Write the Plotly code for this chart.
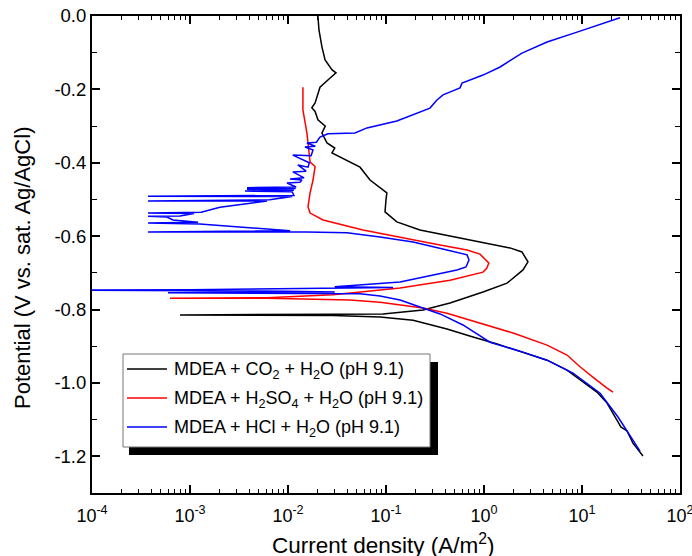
import plotly.graph_objects as go

# ---- Polarisation curves: current density (A/m^2) vs potential (V vs. sat. Ag/AgCl) ----
# Each series is listed in sweep order (cathodic end -> corrosion potential -> anodic end)

co2_current = [41.9, 33.1, 28.8, 24.9, 23.6, 18.0, 14.2, 9.55, 7.03, 4.40, 2.50, 1.36, 0.773,
               0.419, 0.189, 0.0869, 0.0288, 0.0041, 0.00079, 0.00202, 0.0288, 0.0931, 0.239,
               0.45, 0.977, 1.72, 2.50, 2.81, 2.44, 1.84, 0.91, 0.419, 0.222, 0.129, 0.0977,
               0.100, 0.102, 0.0687, 0.0543, 0.0281, 0.0300, 0.025, 0.0222, 0.0240, 0.0202,
               0.0189, 0.0175, 0.0189, 0.0212, 0.0269, 0.0309, 0.0282, 0.0239, 0.0222, 0.0207,
               0.0202]
co2_potential = [-1.199, -1.164, -1.131, -1.120, -1.109, -1.055, -1.025, -0.992, -0.965, -0.938,
                 -0.916, -0.894, -0.875, -0.853, -0.829, -0.820, -0.816, -0.816, -0.815, -0.814,
                 -0.813, -0.812, -0.801, -0.782, -0.752, -0.728, -0.692, -0.670, -0.643, -0.632,
                 -0.616, -0.597, -0.583, -0.561, -0.534, -0.501, -0.482, -0.447, -0.412, -0.373,
                 -0.360, -0.346, -0.319, -0.300, -0.283, -0.260, -0.250, -0.237, -0.194, -0.169,
                 -0.155, -0.147, -0.120, -0.084, -0.038, 0.0]

h2so4_current = [20.7, 18.0, 12.9, 9.55, 7.03, 4.40, 1.98, 0.910, 0.419, 0.239, 0.0869, 0.043,
                 0.00611, 0.000625, 0.00611, 0.0288, 0.139, 0.45, 0.977, 1.07, 1.12, 0.91,
                 0.672, 0.356, 0.189, 0.0582, 0.0228, 0.0168, 0.0160, 0.0168, 0.0180, 0.0189,
                 0.0168, 0.0156, 0.0142, 0.0142]
h2so4_potential = [-1.025, -1.014, -0.984, -0.956, -0.924, -0.897, -0.864, -0.837, -0.810,
                   -0.796, -0.780, -0.774, -0.769, -0.769, -0.768, -0.760, -0.741, -0.720,
                   -0.698, -0.687, -0.673, -0.649, -0.638, -0.624, -0.610, -0.583, -0.556,
                   -0.537, -0.520, -0.482, -0.447, -0.410, -0.398, -0.319, -0.256, -0.194]

hcl_current = [39.1, 23.3, 15.3, 8.09, 4.40, 2.50, 1.15, 0.61, 0.356, 0.222, 0.139, 0.0869,
               0.0543, 0.000596, 0.030, 0.010, 0.001, 0.00005, 0.001, 0.010, 0.118, 0.030,
               0.139, 0.53, 0.655, 0.703, 0.672, 0.419, 0.189, 0.0869, 0.040, 0.0156,
               0.000373, 0.0105, 0.00126, 0.000373, 0.00121, 0.000671, 0.000582, 0.000373,
               0.000791, 0.00110, 0.000373, 0.00130, 0.00149, 0.00202, 0.00611, 0.000373,
               0.0065, 0.0110, 0.000373, 0.0115, 0.0110, 0.00364, 0.0115, 0.00382, 0.0120,
               0.00382, 0.0121, 0.00977, 0.0132, 0.0139, 0.0105, 0.0146, 0.0112, 0.0153,
               0.0126, 0.0160, 0.0165, 0.0112, 0.0172, 0.0180, 0.0149, 0.0190, 0.0156, 0.0195,
               0.0212, 0.0256, 0.0483, 0.064, 0.129, 0.164, 0.281, 0.331, 0.382, 0.569, 0.597,
               0.977, 1.46, 2.44, 3.16, 4.40, 8.9, 24.4]
hcl_potential = [-1.186, -1.093, -1.028, -0.973, -0.938, -0.916, -0.889, -0.842, -0.812,
                 -0.793, -0.774, -0.763, -0.757, -0.754, -0.752, -0.750, -0.748, -0.747,
                 -0.746, -0.744, -0.740, -0.738, -0.725, -0.692, -0.684, -0.665, -0.651,
                 -0.638, -0.616, -0.602, -0.591, -0.589, -0.589, -0.585, -0.567, -0.564,
                 -0.562, -0.556, -0.548, -0.546, -0.545, -0.538, -0.537, -0.535, -0.531,
                 -0.521, -0.504, -0.504, -0.501, -0.492, -0.491, -0.489, -0.479, -0.477,
                 -0.475, -0.472, -0.470, -0.468, -0.466, -0.455, -0.453, -0.447, -0.444,
                 -0.441, -0.425, -0.423, -0.406, -0.412, -0.400, -0.379, -0.381, -0.365,
                 -0.357, -0.355, -0.346, -0.344, -0.330, -0.321, -0.319, -0.305, -0.286,
                 -0.275, -0.251, -0.229, -0.215, -0.196, -0.183, -0.161, -0.139, -0.101,
                 -0.087, -0.071, -0.044, -0.005]

series = [
    ("MDEA + CO<sub>2</sub> + H<sub>2</sub>O (pH 9.1)", co2_current, co2_potential, "#000000"),
    ("MDEA + H<sub>2</sub>SO<sub>4</sub> + H<sub>2</sub>O (pH 9.1)", h2so4_current, h2so4_potential, "#FF0000"),
    ("MDEA + HCl + H<sub>2</sub>O (pH 9.1)", hcl_current, hcl_potential, "#0000FF"),
]

x_tick_values = [1e-4, 1e-3, 1e-2, 1e-1, 1e0, 1e1, 1e2]
x_tick_labels = ["10<sup>-4</sup>", "10<sup>-3</sup>", "10<sup>-2</sup>", "10<sup>-1</sup>",
                 "10<sup>0</sup>", "10<sup>1</sup>", "10<sup>2</sup>"]
y_tick_values = [0.0, -0.2, -0.4, -0.6, -0.8, -1.0, -1.2]
y_tick_labels = ["0.0", "-0.2", "-0.4", "-0.6", "-0.8", "-1.0", "-1.2"]
x_title = "Current density (A/m<sup>2</sup>)"
y_title = "Potential (V vs. sat. Ag/AgCl)"

FONT = "Arial, Liberation Sans, sans-serif"
W, H = 692, 556
L, R, T, B = 92, 12, 16, 63

fig = go.Figure()
for name, cur, pot, color in series:
    fig.add_trace(go.Scatter(x=cur, y=pot, mode="lines", name=name, showlegend=False,
                             line=dict(color=color, width=1.5)))

minor_x = [m * 10.0 ** e for e in range(-4, 2) for m in range(2, 10)]

fig.update_xaxes(
    type="log", range=[-4, 2], automargin=False,
    tickmode="array", tickvals=x_tick_values, ticktext=x_tick_labels,
    ticks="inside", ticklen=8, tickwidth=1.5, tickcolor="black", ticklabelstandoff=5,
    ticklabeloverflow="allow",
    minor=dict(tickmode="array", tickvals=minor_x, ticks="inside", ticklen=4,
               tickwidth=1.2, tickcolor="black", showgrid=False),
    showline=True, linewidth=2, linecolor="black", mirror="ticks",
    showgrid=False, zeroline=False,
    tickfont=dict(family=FONT, size=18, color="black"),
)
fig.update_yaxes(
    range=[-1.3, 0.0], automargin=False, ticklabeloverflow="allow",
    tickmode="array", tickvals=y_tick_values, ticktext=y_tick_labels,
    ticks="inside", ticklen=8, tickwidth=1.5, tickcolor="black",
    minor=dict(dtick=0.1, ticks="inside", ticklen=5, tickwidth=1.2,
               tickcolor="black", showgrid=False),
    showline=True, linewidth=2, linecolor="black", mirror="ticks",
    showgrid=False, zeroline=False,
    tickfont=dict(family=FONT, size=18.5, color="black"),
)

# Pixel -> paper coordinate helpers for the hand-placed legend and axis titles
pw, ph = W - L - R, H - T - B
def px(xp):
    return (xp - L) / pw
def py(yp):
    return (H - B - yp) / ph

shapes = [
    dict(type="rect", xref="paper", yref="paper", x0=px(129), x1=px(438), y0=py(455), y1=py(362),
         fillcolor="black", line=dict(width=0), layer="above"),
    dict(type="rect", xref="paper", yref="paper", x0=px(123), x1=px(430), y0=py(447), y1=py(354),
         fillcolor="white", line=dict(color="#777777", width=1), layer="above"),
]
annotations = [
    dict(xref="paper", yref="paper", x=px(383), y=py(544), xanchor="center", yanchor="middle",
         text=x_title, showarrow=False, font=dict(family=FONT, size=22.5, color="black")),
    dict(xref="paper", yref="paper", x=px(22), y=py(268), xanchor="center", yanchor="middle",
         text=y_title, textangle=-90, showarrow=False,
         font=dict(family=FONT, size=22, color="black")),
]
for (name, _, _, color), row_y in zip(series, [369, 398, 427]):
    shapes.append(dict(type="line", xref="paper", yref="paper", x0=px(127), x1=px(167),
                       y0=py(row_y), y1=py(row_y), line=dict(color=color, width=1.5),
                       layer="above"))
    annotations.append(dict(xref="paper", yref="paper", x=px(172), y=py(row_y + 1),
                            xanchor="left", yanchor="middle", text=name, showarrow=False,
                            font=dict(family=FONT, size=18, color="black")))

fig.update_layout(
    width=W, height=H,
    margin=dict(l=L, r=R, t=T, b=B, autoexpand=False),
    paper_bgcolor="white", plot_bgcolor="white",
    shapes=shapes, annotations=annotations,
)

fig.write_html("out.html")
